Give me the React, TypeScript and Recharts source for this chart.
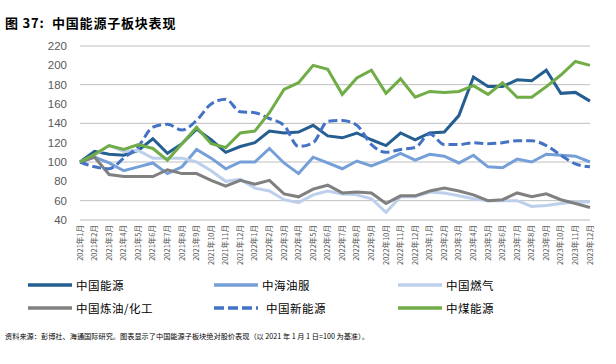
import React from "react";
import { LineChart, Line, XAxis, YAxis, CartesianGrid } from "recharts";

const months: string[] = [
  "2021年1月", "2021年2月", "2021年3月", "2021年4月", "2021年5月", "2021年6月",
  "2021年7月", "2021年8月", "2021年9月", "2021年10月", "2021年11月", "2021年12月",
  "2022年1月", "2022年2月", "2022年3月", "2022年4月", "2022年5月", "2022年6月",
  "2022年7月", "2022年8月", "2022年9月", "2022年10月", "2022年11月", "2022年12月",
  "2023年1月", "2023年2月", "2023年3月", "2023年4月", "2023年5月", "2023年6月",
  "2023年7月", "2023年8月", "2023年9月", "2023年10月", "2023年11月", "2023年12月",
];

const chinaEnergy: number[] = [100, 111, 108, 107, 112, 124, 109, 119, 134, 123, 110, 116, 120, 132, 130, 131, 138, 127, 125, 130, 123, 117, 130, 123, 130, 131, 148, 188, 178, 178, 185, 184, 195, 171, 172, 163];
const cosl: number[] = [100, 105, 99, 91, 95, 99, 88, 95, 113, 104, 93, 100, 100, 114, 99, 88, 105, 99, 93, 101, 96, 102, 109, 102, 108, 106, 99, 107, 95, 94, 103, 100, 108, 107, 106, 100];
const gas: number[] = [100, 107, 117, 111, 112, 104, 104, 104, 100, 91, 80, 82, 73, 70, 61, 58, 66, 70, 67, 66, 62, 48, 64, 64, 69, 68, 65, 62, 60, 60, 60, 54, 55, 57, 58.5, 58.5];
const refining: number[] = [100, 105, 87, 85, 85, 85, 92, 88, 88, 81, 75, 81, 77, 81, 67, 64, 72, 76, 68, 69, 68, 57, 65, 65, 70, 73, 70, 66, 60, 61, 68, 64, 67, 61, 57, 53];
const newEnergy: number[] = [100, 95, 93, 104, 116, 136, 139, 133, 143, 160, 165, 152, 151, 145, 138, 116, 120, 142, 143, 138, 118, 110, 113, 115, 129, 118, 118, 120, 119, 120, 122, 122, 117, 107, 98, 95];
const coal: number[] = [100, 108, 117, 113, 118, 114, 102, 119, 136, 119, 115, 130, 132, 151, 175, 182, 200, 196, 170, 187, 195, 171, 186, 167, 173, 172, 173, 179, 170, 182, 167, 167, 178, 190, 204, 200];

const yTicks: number[] = [40, 60, 80, 100, 120, 140, 160, 180, 200, 220];

const seriesNames = {
  chinaEnergy: "中国能源",
  cosl: "中海油服",
  gas: "中国燃气",
  refining: "中国炼油/化工",
  newEnergy: "中国新能源",
  coal: "中煤能源",
};

const data = months.map((m, i) => ({
  month: m,
  chinaEnergy: chinaEnergy[i],
  cosl: cosl[i],
  gas: gas[i],
  refining: refining[i],
  newEnergy: newEnergy[i],
  coal: coal[i],
}));

const COLORS = {
  chinaEnergy: "#255E91",
  cosl: "#759FD8",
  gas: "#BCD0EC",
  refining: "#808080",
  newEnergy: "#4472C4",
  coal: "#70AD47",
};

const CJK = "'Noto Sans CJK SC', 'Noto Sans', sans-serif";

const XTick = (props: any) => {
  const { x, payload } = props;
  const ay = 225;
  return (
    <text
      x={x}
      y={ay}
      dy="0.35em"
      transform={`rotate(-90 ${x} ${ay})`}
      textAnchor="end"
      fontSize={7.5}
      fill="#595959"
      fontFamily={CJK}
    >
      {payload.value}
    </text>
  );
};

const legendItems: { key: keyof typeof COLORS; x: number; y: number; dashed?: boolean }[] = [
  { key: "chinaEnergy", x: 28, y: 285 },
  { key: "cosl", x: 214, y: 285 },
  { key: "gas", x: 398, y: 285 },
  { key: "refining", x: 28, y: 308 },
  { key: "newEnergy", x: 214, y: 308, dashed: true },
  { key: "coal", x: 398, y: 308 },
];

export default function App() {
  return (
    <div
      style={{
        position: "absolute",
        left: 0,
        top: 0,
        width: 616,
        height: 364,
        background: "#fff",
        overflow: "hidden",
      }}
    >
      <div
        style={{
          position: "absolute",
          left: 5,
          top: 15,
          fontSize: 13,
          lineHeight: "16px",
          fontWeight: 700,
          letterSpacing: 0.8,
          fontFamily: CJK,
          color: "#000",
          whiteSpace: "nowrap",
        }}
      >
        图 37:&nbsp;&nbsp;中国能源子板块表现
      </div>

      <div style={{ position: "absolute", left: 0, top: 0 }}>
        <LineChart
          width={616}
          height={270}
          data={data}
          margin={{ top: 46, right: 26, left: 0, bottom: 0 }}
        >
          <CartesianGrid vertical={false} stroke="#BFBFBF" strokeWidth={1} />
          <XAxis
            dataKey="month"
            interval={0}
            height={50}
            tick={<XTick />}
            tickLine={false}
            axisLine={{ stroke: "#D9D9D9", strokeWidth: 1 }}
          />
          <YAxis
            width={80}
            domain={[40, 220]}
            ticks={yTicks}
            tickLine={false}
            axisLine={false}
            tickMargin={7}
            tick={{ fontSize: 11.5, fill: "#595959", fontFamily: "'Liberation Sans', Arial, sans-serif" }}
          />
          <Line type="linear" dataKey="chinaEnergy" name={seriesNames.chinaEnergy} stroke={COLORS.chinaEnergy} strokeWidth={3} dot={false} isAnimationActive={false} />
          <Line type="linear" dataKey="cosl" name={seriesNames.cosl} stroke={COLORS.cosl} strokeWidth={3} dot={false} isAnimationActive={false} />
          <Line type="linear" dataKey="gas" name={seriesNames.gas} stroke={COLORS.gas} strokeWidth={3} dot={false} isAnimationActive={false} />
          <Line type="linear" dataKey="refining" name={seriesNames.refining} stroke={COLORS.refining} strokeWidth={3} dot={false} isAnimationActive={false} />
          <Line type="monotone" dataKey="newEnergy" name={seriesNames.newEnergy} stroke={COLORS.newEnergy} strokeWidth={3} strokeDasharray="9 4" dot={false} isAnimationActive={false} />
          <Line type="linear" dataKey="coal" name={seriesNames.coal} stroke={COLORS.coal} strokeWidth={3} dot={false} isAnimationActive={false} />
        </LineChart>
      </div>

      {legendItems.map((it) => (
        <div
          key={it.key}
          style={{
            position: "absolute",
            left: it.x,
            top: it.y - 8,
            height: 16,
            display: "flex",
            alignItems: "center",
            whiteSpace: "nowrap",
          }}
        >
          <svg width={44} height={6} style={{ display: "block" }}>
            <line
              x1={0}
              y1={3}
              x2={44}
              y2={3}
              stroke={COLORS[it.key]}
              strokeWidth={3.5}
              strokeDasharray={it.dashed ? "10 4" : undefined}
            />
          </svg>
          <span
            style={{
              marginLeft: it.dashed ? 8 : 4,
              fontSize: 11.5,
              letterSpacing: 0.5,
              fontFamily: CJK,
              color: "#000",
            }}
          >
            {seriesNames[it.key]}
          </span>
        </div>
      ))}

      <div
        style={{
          position: "absolute",
          left: 5,
          top: 331,
          fontSize: 7.2,
          lineHeight: "10px",
          fontFamily: CJK,
          color: "#000",
          whiteSpace: "nowrap",
        }}
      >
        资料来源：彭博社、海通国际研究。图表显示了中国能源子板块绝对股价表现（以 2021 年 1 月 1 日=100 为基准）。
      </div>
    </div>
  );
}
